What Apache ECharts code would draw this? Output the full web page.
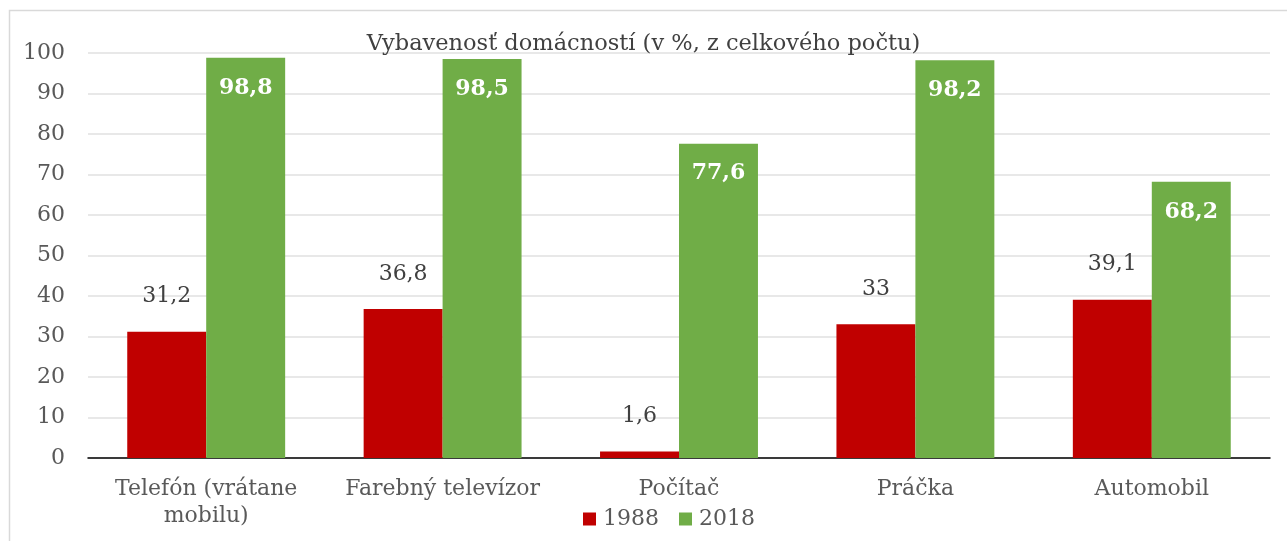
<!DOCTYPE html>
<html>
<head>
<meta charset="utf-8">
<script src="https://cdn.jsdelivr.net/npm/echarts@6/dist/echarts.min.js"></script>
<style>
  html, body { margin: 0; padding: 0; background: #fff; }
  #chart { width: 1287px; height: 541px; }
</style>
</head>
<body>
<div id="chart"></div>
<script>
var categories = ['Telefón (vrátane\nmobilu)', 'Farebný televízor', 'Počítač', 'Práčka', 'Automobil'];
var values1988 = [31.2, 36.8, 1.6, 33, 39.1];
var values2018 = [98.8, 98.5, 77.6, 98.2, 68.2];
var seriesNames = ['1988', '2018'];

var fontFamily = '"DejaVu Serif", serif';

function fmt(p) {
  return String(p.value).replace('.', ',');
}

var chart = echarts.init(document.getElementById('chart'));

var option = {
  backgroundColor: '#fff',
  animation: false,
  textStyle: { fontFamily: fontFamily },
  title: {
    text: 'Vybavenosť domácností (v %, z celkového počtu)',
    left: 'center',
    top: 28,
    textStyle: { fontFamily: fontFamily, fontSize: 22.5, fontWeight: 'normal', color: '#404040' }
  },
  legend: {
    data: seriesNames,
    bottom: 6,
    left: 578,
    itemWidth: 13,
    itemHeight: 13,
    itemGap: 20,
    icon: 'rect',
    textStyle: { fontFamily: fontFamily, fontSize: 22, color: '#595959', padding: [0, 0, 0, 2] }
  },
  grid: { left: 88, right: 17, top: 53, bottom: 83 },
  graphic: [{
    type: 'rect',
    shape: { x: 9.5, y: 10.5, width: 1400, height: 700 },
    style: { fill: 'none', stroke: '#d9d9d9', lineWidth: 1.5 },
    silent: true
  }],
  xAxis: {
    type: 'category',
    data: categories,
    axisTick: { show: false },
    axisLine: { lineStyle: { color: '#000', width: 1.5 } },
    axisLabel: { fontSize: 22, color: '#595959', margin: 18, lineHeight: 27, interval: 0 }
  },
  yAxis: {
    type: 'value',
    min: 0,
    max: 100,
    interval: 10,
    axisLine: { show: false },
    axisTick: { show: false },
    axisLabel: { fontSize: 22, color: '#595959', margin: 23 },
    splitLine: { lineStyle: { color: '#e0e0e0', width: 1.5 } }
  },
  series: [{
    name: seriesNames[0],
    type: 'bar',
    data: values1988,
    barGap: '0%',
    barCategoryGap: '33.2%',
    itemStyle: { color: '#c00000' },
    label: {
      show: true,
      position: 'top',
      distance: 24,
      fontSize: 22,
      color: '#404040',
      formatter: fmt
    }
  }, {
    name: seriesNames[1],
    type: 'bar',
    data: values2018,
    barGap: '0%',
    barCategoryGap: '33.2%',
    itemStyle: { color: '#70ad47' },
    label: {
      show: true,
      position: 'insideTop',
      distance: 19,
      fontSize: 22,
      fontWeight: 'bold',
      color: '#fff',
      formatter: fmt
    }
  }]
};

chart.setOption(option);
</script>
</body>
</html>
